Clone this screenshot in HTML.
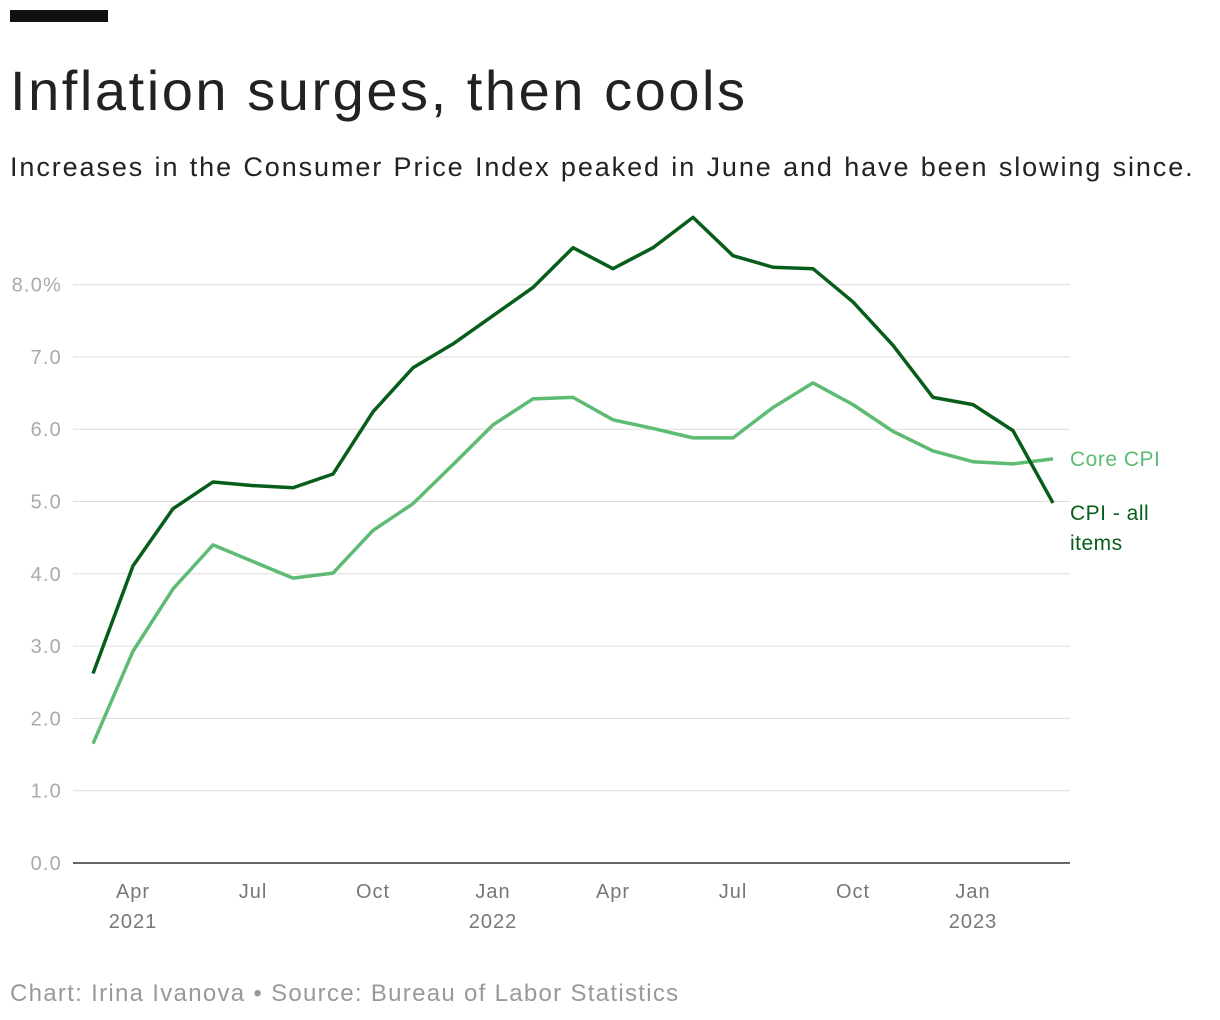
<!DOCTYPE html>
<html><head><meta charset="utf-8"><style>
body{margin:0;width:1220px;height:1020px;background:#fff;font-family:"Liberation Sans",sans-serif;overflow:hidden;position:relative}
.bar{position:absolute;left:10px;top:10px;width:98px;height:12px;background:#111}
h1{position:absolute;left:10px;top:58px;margin:0;font-size:56px;font-weight:300;color:#222;letter-spacing:2.55px;white-space:nowrap}
.sub{position:absolute;left:10px;top:152px;font-size:27px;color:#222;letter-spacing:1.9px;word-spacing:1px;white-space:nowrap}
.foot{position:absolute;left:10px;top:980px;font-size:24px;color:#999;letter-spacing:1.3px;white-space:nowrap}
svg{position:absolute;left:0;top:0}
</style></head><body>
<div class="bar"></div>
<h1>Inflation surges, then cools</h1>
<div class="sub">Increases in the Consumer Price Index peaked in June and have been slowing since.</div>
<svg id="c" width="1220" height="1020"></svg>
<div class="foot">Chart: Irina Ivanova • Source: Bureau of Labor Statistics</div>
<script>
const cpi=[2.62,4.11,4.90,5.27,5.22,5.19,5.38,6.24,6.85,7.18,7.57,7.96,8.51,8.22,8.51,8.93,8.40,8.24,8.22,7.76,7.16,6.44,6.34,5.98,4.98];
const core=[1.65,2.93,3.79,4.40,4.17,3.94,4.01,4.60,4.97,5.51,6.06,6.42,6.44,6.13,6.01,5.88,5.88,6.30,6.64,6.34,5.97,5.70,5.55,5.52,5.59];
const yTicks=[0,1,2,3,4,5,6,7,8];
const yLabels=["0.0","1.0","2.0","3.0","4.0","5.0","6.0","7.0","8.0%"];
const xTickIdx=[1,4,7,10,13,16,19,22];
const xTickLabels=["Apr","Jul","Oct","Jan","Apr","Jul","Oct","Jan"];
const xYearLabels=["2021","","","2022","","","","2023"];
const svg=document.getElementById('c');const NS="http://www.w3.org/2000/svg";
const X=i=>93+i*40, Y=v=>863-v*72.3;
function mk(t,a){const e=document.createElementNS(NS,t);for(const k in a)e.setAttribute(k,a[k]);svg.appendChild(e);return e;}
yTicks.forEach((v,i)=>{
 const l=mk('line',{x1:73,x2:1070,y1:Y(v),y2:Y(v),stroke:v===0?'#333':'#ddd','stroke-width':v===0?1.5:1});
 
 
 const t=mk('text',{x:62,y:Y(v)+7,'text-anchor':'end','font-size':20,fill:'#aaa','letter-spacing':1.2,'font-family':'Liberation Sans, sans-serif'});t.textContent=yLabels[i];
 
 
});
xTickIdx.forEach((idx,i)=>{
 const t=mk('text',{x:X(idx),y:898,'text-anchor':'middle','font-size':20,fill:'#777','letter-spacing':1,'font-family':'Liberation Sans, sans-serif'});t.textContent=xTickLabels[i];
 
 
 if(xYearLabels[i]){const y=mk('text',{x:X(idx),y:928,'text-anchor':'middle','font-size':20,fill:'#777','letter-spacing':1,'font-family':'Liberation Sans, sans-serif'});y.textContent=xYearLabels[i];
 
 }
});
function line(d,c,n){const p=mk('path',{d:d.map((v,i)=>(i?'L':'M')+X(i)+','+Y(v)).join(''),fill:'none',stroke:c,'stroke-width':3.5,'stroke-linejoin':'round'});
 
 }
line(core,'#5dbb73','core-cpi-line');
line(cpi,'#075e1b','cpi-all-items-line');
const l1=mk('text',{x:1070,y:466,'font-size':21,fill:'#5dbb73','letter-spacing':0.5,'font-family':'Liberation Sans, sans-serif'});l1.textContent='Core CPI';


const l2=mk('text',{x:1070,y:520,'font-size':21,fill:'#075e1b','letter-spacing':0.5,'font-family':'Liberation Sans, sans-serif'});l2.textContent='CPI - all';


const l3=mk('text',{x:1070,y:550,'font-size':21,fill:'#075e1b','letter-spacing':0.5,'font-family':'Liberation Sans, sans-serif'});l3.textContent='items';


</script>
</body></html>
